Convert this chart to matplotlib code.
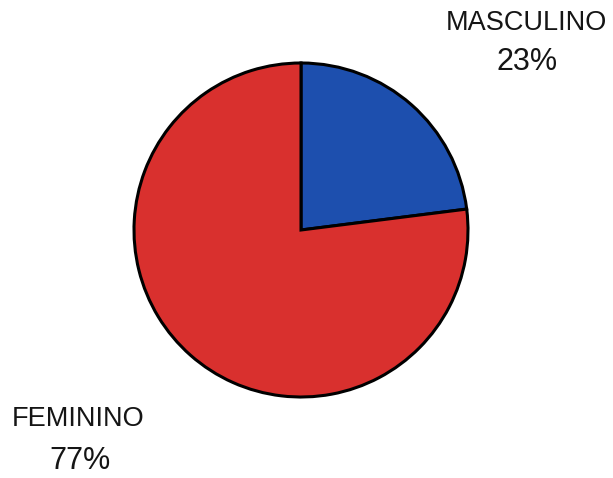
import matplotlib
matplotlib.use("Agg")
import matplotlib.pyplot as plt

labels = ["MASCULINO", "FEMININO"]
values = [23, 77]
colors = ["#1d4fae", "#d9302e"]

W, H = 613, 478
fig = plt.figure(figsize=(W / 100, H / 100), dpi=100)
ax = fig.add_axes([0, 0, 1, 1])
ax.set_xlim(0, W)
ax.set_ylim(0, H)
ax.set_aspect("equal")
ax.axis("off")

cx, cy, r = 301, H - 230, 167
ax.pie(values, colors=colors, startangle=90, counterclock=False,
       center=(cx, cy), radius=r, frame=True,
       wedgeprops=dict(edgecolor="black", linewidth=2.2))
ax.set_xlim(0, W)
ax.set_ylim(0, H)
ax.axis("off")

font = "Liberation Sans"
pos = [(526, 23, 527, 62), (78, 419, 80, 461)]
for lab, v, (x1, y1, x2, y2) in zip(labels, values, pos):
    ax.text(x1, H - y1, lab, ha="center", va="center", fontsize=19.5,
            family=font, color="#151515")
    ax.text(x2, H - y2, f"{v}%", ha="center", va="center", fontsize=22,
            family=font, color="#151515")

fig.savefig("out.png", dpi=100)
